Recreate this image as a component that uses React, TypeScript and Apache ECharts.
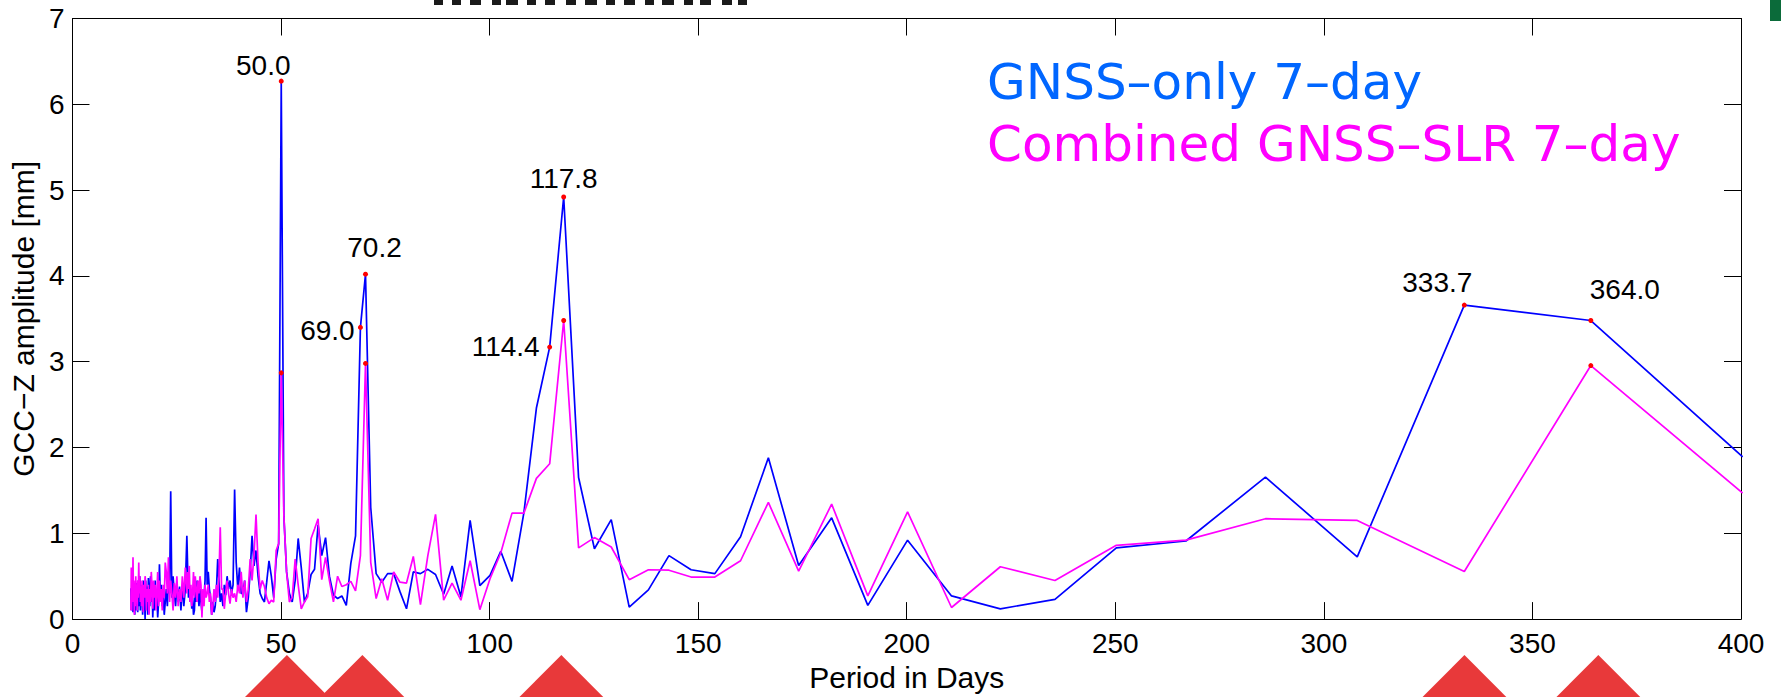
import React, { useEffect, useRef } from "react";
import * as echarts from "echarts";

// Period in days (frequency grid of the periodogram)
const periods = [
  14.0, 14.1, 14.2, 14.3, 14.4, 14.51, 14.61, 14.72, 14.83, 14.94,
  15.05, 15.17, 15.28, 15.4, 15.52, 15.64, 15.76, 15.89, 16.02, 16.15,
  16.28, 16.41, 16.55, 16.68, 16.82, 16.97, 17.11, 17.26, 17.41, 17.56,
  17.72, 17.88, 18.04, 18.2, 18.37, 18.54, 18.71, 18.89, 19.07, 19.25,
  19.44, 19.63, 19.82, 20.02, 20.22, 20.43, 20.64, 20.85, 21.07, 21.3,
  21.53, 21.76, 22.0, 22.24, 22.49, 22.75, 23.01, 23.28, 23.55, 23.83,
  24.12, 24.41, 24.72, 25.03, 25.34, 25.67, 26.0, 26.34, 26.69, 27.05,
  27.42, 27.61, 27.81, 28.0, 28.2, 28.4, 28.6, 28.81, 29.01, 29.23,
  29.44, 29.66, 29.88, 30.11, 30.33, 30.56, 30.8, 31.04, 31.28, 31.53,
  31.78, 32.03, 32.29, 32.55, 32.82, 33.09, 33.37, 33.65, 33.93, 34.22,
  34.52, 34.82, 35.12, 35.43, 35.75, 36.07, 36.4, 36.73, 37.07, 37.42,
  37.77, 38.13, 38.5, 38.87, 39.25, 39.64, 40.04, 40.44, 40.86, 41.28,
  41.71, 42.15, 42.6, 43.05, 43.52, 44.0, 44.49, 44.99, 45.5, 46.02,
  46.56, 47.11, 47.67, 48.24, 48.83, 49.43,
  50.05, 50.68, 51.33, 52.0, 52.68, 53.39, 54.11, 54.85, 55.61, 56.39,
  57.2, 58.03, 58.88, 59.76, 60.67, 61.6, 62.56, 63.56, 64.58, 65.64,
  66.73, 67.86, 69.03, 70.25, 71.5, 72.8, 74.15, 75.55, 77.0, 78.51,
  80.08, 81.71, 83.42, 85.19, 87.04, 88.98, 91.0, 93.12, 95.33, 97.66,
  100.1, 102.67, 105.37, 108.22, 111.22, 114.4, 117.76, 121.33, 125.13, 129.16,
  133.47, 138.07, 143.0, 148.3, 154.0, 160.16, 166.83, 174.09, 182.0, 190.67,
  200.2, 210.74, 222.44, 235.53, 250.25, 266.93, 286.0, 308.0, 333.67, 364.0,
  400.4,
];

// GCC-Z amplitude [mm], GNSS-only 7-day solution
const gnssOnly = [
  0.36, 0.12, 0.35, 0.1, 0.25, 0.08, 0.3, 0.15, 0.38, 0.05,
  0.3, 0.1, 0.42, 0.2, 0.35, 0.08, 0.45, 0.15, 0.3, 0.5,
  0.1, 0.35, 0.2, 0.4, 0.05, 0.45, 0.12, 0.3, 0.0, 0.45,
  0.2, 0.38, 0.05, 0.48, 0.3, 0.15, 0.5, 0.2, 0.4, 0.02,
  0.35, 0.1, 0.45, 0.15, 0.3, 0.02, 0.2, 0.64, 0.25, 0.4,
  0.15, 0.3, 0.05, 0.2, 0.35, 0.15, 0.5, 0.3, 1.49, 0.25,
  0.5, 0.3, 0.15, 0.42, 0.2, 0.38, 0.1, 0.4, 0.15, 0.35,
  0.97, 0.6, 0.25, 0.35, 0.2, 0.3, 0.12, 0.25, 0.05, 0.1,
  0.35, 0.2, 0.45, 0.3, 0.15, 0.35, 0.2, 0.08, 0.3, 0.25,
  0.45, 1.18, 0.4, 0.55, 0.35, 0.25, 0.05, 0.2, 0.08, 0.15,
  0.35, 0.7, 0.45, 0.2, 0.3, 0.15, 0.4, 0.28, 0.5, 0.35,
  0.45, 0.3, 0.4, 1.51, 0.66, 0.35, 0.6, 0.3, 0.3, 0.45,
  0.08, 0.25, 0.55, 0.97, 0.62, 0.8, 0.5, 0.3, 0.24, 0.2,
  0.43, 0.68, 0.5, 0.25, 0.7, 0.88,
  6.27, 1.2, 0.55, 0.3, 0.2, 0.45, 0.94, 0.6, 0.2, 0.3,
  0.52, 0.58, 1.1, 0.74, 0.95, 0.5, 0.28, 0.24, 0.27, 0.16,
  0.65, 0.97, 3.4, 4.02, 1.3, 0.53, 0.43, 0.53, 0.53, 0.32,
  0.12, 0.55, 0.53, 0.58, 0.52, 0.29, 0.62, 0.26, 1.15, 0.39,
  0.51, 0.79, 0.44, 1.24, 2.46, 3.17, 4.92, 1.65, 0.82, 1.16,
  0.14, 0.34, 0.74, 0.575, 0.53, 0.96, 1.88, 0.625, 1.18, 0.16,
  0.92, 0.27, 0.12, 0.23, 0.83, 0.91, 1.655, 0.725, 3.66, 3.48,
  1.89,
];

// GCC-Z amplitude [mm], combined GNSS-SLR 7-day solution
const combinedGnssSlr = [
  0.1, 0.6, 0.1, 0.45, 0.2, 0.72, 0.3, 0.45, 0.05, 0.4,
  0.15, 0.5, 0.2, 0.4, 0.1, 0.45, 0.25, 0.66, 0.3, 0.5,
  0.2, 0.38, 0.15, 0.45, 0.3, 0.08, 0.4, 0.25, 0.5, 0.42,
  0.1, 0.35, 0.2, 0.4, 0.05, 0.35, 0.2, 0.55, 0.38, 0.12,
  0.45, 0.25, 0.4, 0.1, 0.3, 0.55, 0.15, 0.45, 0.2, 0.35,
  0.1, 0.4, 0.25, 0.66, 0.55, 0.3, 0.72, 0.2, 0.45, 0.3,
  0.1, 0.42, 0.25, 0.5, 0.15, 0.35, 0.2, 0.5, 0.25, 0.6,
  0.3, 0.55, 0.35, 0.62, 0.2, 0.4, 0.15, 0.3, 0.55, 0.25,
  0.5, 0.35, 0.2, 0.45, 0.3, 0.5, 0.4, 0.02, 0.35, 0.15,
  0.4, 0.25, 0.3, 0.4, 0.2, 0.3, 0.05, 0.15, 0.35, 0.2,
  0.4, 0.25, 0.5, 1.07, 0.35, 0.35, 0.12, 0.3, 0.45, 0.3,
  0.18, 0.35, 0.25, 0.3, 0.2, 0.4, 0.3, 0.55, 0.25, 0.45,
  0.2, 0.35, 0.7, 0.45, 0.75, 1.22, 0.66, 0.35, 0.45, 0.38,
  0.25, 0.18, 0.22, 0.2, 0.8, 0.88,
  2.87, 1.2, 0.55, 0.2, 0.25, 0.7, 0.4, 0.12, 0.2, 0.26,
  0.94, 1.05, 1.17, 0.46, 0.72, 0.45, 0.2, 0.5, 0.38, 0.4,
  0.44, 0.33, 0.74, 2.98, 0.66, 0.24, 0.47, 0.22, 0.55, 0.43,
  0.42, 0.73, 0.17, 0.74, 1.22, 0.22, 0.42, 0.22, 0.68, 0.11,
  0.47, 0.77, 1.235, 1.235, 1.64, 1.81, 3.48, 0.83, 0.95, 0.84,
  0.46, 0.575, 0.57, 0.49, 0.49, 0.68, 1.36, 0.56, 1.34, 0.27,
  1.25, 0.135, 0.61, 0.45, 0.86, 0.92, 1.17, 1.15, 0.555, 2.955,
  1.47,
];

// Annotated peaks
const gnssPeakPeriods = [50.05, 69.03, 70.25, 114.4, 117.76, 333.67, 364.0];
const gnssPeakLabels = ["50.0", "69.0", "70.2", "114.4", "117.8", "333.7", "364.0"];
const combinedPeakPeriods = [50.05, 70.25, 117.76, 364.0];

// Slide markers below the axis
const markerPeriods = [51.4, 69.5, 117.2, 333.7, 365.8];

const seriesNames = ["GNSS–only 7–day", "Combined GNSS–SLR 7–day"];
const xTitle = "Period in Days";
const yTitle = "GCC−Z amplitude [mm]";

const FONT = "'Liberation Sans', Arial, Helvetica, sans-serif";
const BLUE = "#0000ff";
const MAGENTA = "#ff00ff";

const valueAt = (vals: number[], p: number) => vals[periods.indexOf(p)];

export default function App() {
  const ref = useRef<HTMLDivElement>(null);

  useEffect(() => {
    if (!ref.current) return;
    const chart = echarts.init(ref.current, null, { renderer: "svg" });

    const labelOffsets = [
      [-18, -16],
      [-33, 3],
      [9, -27],
      [-44, -1],
      [0, -18],
      [-27, -23],
      [34, -31],
    ];

    const axisLine = { show: true, onZero: false, lineStyle: { color: "#000", width: 1 } };
    const axisTick = { show: true, inside: true, length: 17, lineStyle: { color: "#000", width: 1 } };

    // cut-off slide heading fragments at the very top (letter feet)
    const feet: number[][] = [
      [434, 9], [452, 9], [470, 11], [492, 9], [506, 12], [527, 9],
      [545, 10], [566, 10], [585, 12], [606, 9], [624, 11], [645, 9],
      [662, 12], [684, 9], [700, 11], [722, 10], [738, 9],
    ];

    const option: any = {
      animation: false,
      backgroundColor: "#ffffff",
      grid: { left: 70.5, right: 40, top: 18.5, bottom: 72.5, containLabel: false },
      xAxis: [
        {
          type: "value",
          position: "bottom",
          min: 0,
          max: 400,
          interval: 50,
          axisLine,
          axisTick,
          splitLine: { show: false },
          axisLabel: { show: true, margin: 10, fontSize: 28, fontFamily: FONT, color: "#000" },
          name: xTitle,
          nameLocation: "middle",
          nameGap: 41,
          nameTextStyle: { fontSize: 30, fontFamily: FONT, color: "#000" },
        },
        {
          type: "value",
          position: "top",
          min: 0,
          max: 400,
          interval: 50,
          axisLine,
          axisTick,
          splitLine: { show: false },
          axisLabel: { show: false },
        },
      ],
      yAxis: [
        {
          type: "value",
          position: "left",
          min: 0,
          max: 7,
          interval: 1,
          axisLine,
          axisTick,
          splitLine: { show: false },
          axisLabel: { show: true, margin: 8, fontSize: 28, fontFamily: FONT, color: "#000" },
          name: yTitle,
          nameLocation: "middle",
          nameGap: 33,
          nameTextStyle: { fontSize: 30, fontFamily: FONT, color: "#000" },
        },
        {
          type: "value",
          position: "right",
          min: 0,
          max: 7,
          interval: 1,
          axisLine,
          axisTick,
          splitLine: { show: false },
          axisLabel: { show: false },
        },
      ],
      series: [
        {
          name: seriesNames[0],
          type: "line",
          xAxisIndex: 0,
          yAxisIndex: 0,
          data: periods.map((p, i) => [p, gnssOnly[i]]),
          showSymbol: false,
          symbol: "none",
          lineStyle: { color: BLUE, width: 1.7 },
          itemStyle: { color: BLUE },
          z: 2,
        },
        {
          name: seriesNames[1],
          type: "line",
          xAxisIndex: 0,
          yAxisIndex: 0,
          data: periods.map((p, i) => [p, combinedGnssSlr[i]]),
          showSymbol: false,
          symbol: "none",
          lineStyle: { color: MAGENTA, width: 1.7 },
          itemStyle: { color: MAGENTA },
          z: 3,
        },
        {
          name: "GNSS-only peaks",
          type: "scatter",
          symbol: "circle",
          symbolSize: 5,
          itemStyle: { color: "#ff0000", opacity: 1 },
          z: 5,
          data: gnssPeakPeriods.map((p, i) => ({
            value: [p, valueAt(gnssOnly, p)],
            label: {
              show: true,
              position: "inside",
              offset: labelOffsets[i],
              formatter: gnssPeakLabels[i],
              fontSize: 28,
              fontFamily: FONT,
              color: "#000",
            },
          })),
        },
        {
          name: "Combined peaks",
          type: "scatter",
          symbol: "circle",
          symbolSize: 5,
          itemStyle: { color: "#ff0000", opacity: 1 },
          z: 5,
          data: combinedPeakPeriods.map((p) => [p, valueAt(combinedGnssSlr, p)]),
        },
        {
          name: "markers",
          type: "scatter",
          symbol: "triangle",
          symbolSize: [160, 80],
          symbolOffset: [0, 76],
          clip: false,
          silent: true,
          itemStyle: { color: "#e8393a", opacity: 1 },
          z: 6,
          data: markerPeriods.map((p) => [p, 0]),
        },
      ],
      graphic: [
        {
          type: "text",
          x: 987,
          y: 81.5,
          style: {
            text: seriesNames[0],
            fill: "#0066ff",
            font: "50px 'DejaVu Sans', sans-serif",
            verticalAlign: "middle",
            align: "left",
          },
        },
        {
          type: "text",
          x: 987,
          y: 143.5,
          style: {
            text: seriesNames[1],
            fill: MAGENTA,
            font: "50px 'DejaVu Sans', sans-serif",
            verticalAlign: "middle",
            align: "left",
          },
        },
        {
          type: "rect",
          shape: { x: 1770, y: 0, width: 11, height: 21 },
          style: { fill: "#0b6b3a" },
        },
        {
          type: "group",
          children: feet.map(([x, w]) => ({
            type: "rect",
            shape: { x, y: 0, width: w, height: 5 },
            style: { fill: "#1a1a1a" },
          })),
        },
      ],
    };

    chart.setOption(option);
    return () => chart.dispose();
  }, []);

  return (
    <div
      ref={ref}
      style={{ position: "fixed", left: 0, top: 0, width: 1781, height: 697, background: "#fff" }}
    />
  );
}
